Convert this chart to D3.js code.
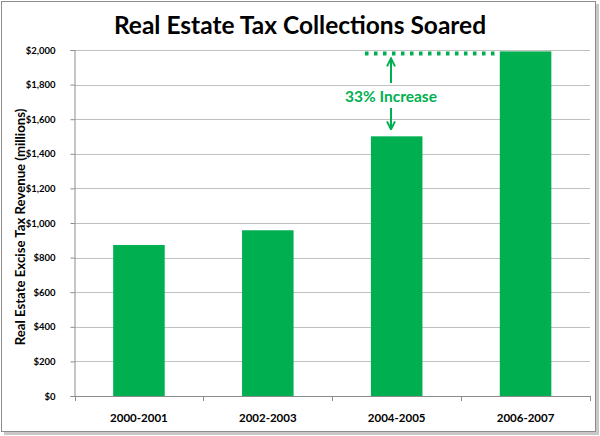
<!DOCTYPE html>
<html><head><meta charset="utf-8">
<script src="https://cdn.jsdelivr.net/npm/d3@7"></script>
<style>body{margin:0;background:#fff}svg{display:block}</style>
</head><body>
<script>
const categories = ["2000-2001", "2002-2003", "2004-2005", "2006-2007"];
const revenue = [873, 958, 1501, 1992];
const yTicks = [0, 200, 400, 600, 800, 1000, 1200, 1400, 1600, 1800, 2000];
const title = "Real Estate Tax Collections Soared";
const yTitle = "Real Estate Excise Tax Revenue (millions)";
const annotation = "33% Increase";

(function () {
const W = 600, H = 436;
const green = "#00B050";
const font = "Lato, 'Open Sans', sans-serif";
const svg = d3.select("body").append("svg").attr("width", W).attr("height", H);

// frame with shadow
svg.append("rect").attr("x", 4).attr("y", 4).attr("width", W - 5).attr("height", H - 5).attr("fill", "#c8c8c8");
svg.append("rect").attr("x", 1.5).attr("y", 1.5).attr("width", W - 6).attr("height", H - 6)
  .attr("fill", "#fff").attr("stroke", "#8c8c8c").attr("stroke-width", 1);

const pLeft = 74.5, pRight = 590, pTop = 50, pBottom = 396;
const x = d3.scaleBand().domain(categories).range([pLeft, pRight]).paddingInner(0.6).paddingOuter(0.3);
const y = d3.scaleLinear().domain([0, 2000]).range([pBottom, pTop]);

// gridlines
svg.append("g").selectAll("line").data(yTicks.filter(d => d > 0)).join("line")
  .attr("x1", pLeft).attr("x2", pRight)
  .attr("y1", d => Math.round(y(d)) + 0.5).attr("y2", d => Math.round(y(d)) + 0.5)
  .attr("stroke", "#c0c0c0").attr("stroke-width", 1);

// bars
svg.append("g").selectAll("rect").data(categories).join("rect")
  .attr("x", d => x(d)).attr("width", x.bandwidth())
  .attr("y", (d, i) => y(revenue[i])).attr("height", (d, i) => pBottom - y(revenue[i]))
  .attr("fill", green);

// y axis
const yAxis = d3.axisLeft(y).tickValues(yTicks).tickSize(4).tickPadding(15)
  .tickFormat(d => "$" + d3.format(",")(d));
const gy = svg.append("g").attr("transform", `translate(${pLeft},0)`).call(yAxis);
gy.select(".domain").attr("stroke", "#8c8c8c");
gy.selectAll(".tick line").attr("stroke", "#8c8c8c");
gy.selectAll(".tick text").attr("font-family", font).attr("font-weight", "bold")
  .attr("font-size", 9.5).attr("fill", "#000");

// x axis
const bandEdges = categories.map(c => x(c) - x.step() * x.paddingInner() / 2).concat([pRight]);
const gx = svg.append("g");
gx.append("line").attr("x1", pLeft).attr("x2", pRight).attr("y1", pBottom + 0.5).attr("y2", pBottom + 0.5).attr("stroke", "#8c8c8c");
gx.selectAll("line.t").data(bandEdges).join("line").attr("class", "t")
  .attr("x1", d => Math.round(d) + 0.5).attr("x2", d => Math.round(d) + 0.5)
  .attr("y1", pBottom).attr("y2", pBottom + 5).attr("stroke", "#8c8c8c");
gx.selectAll("text").data(categories).join("text")
  .attr("x", d => x(d) + x.bandwidth() / 2).attr("y", 422)
  .attr("text-anchor", "middle").attr("font-family", font).attr("font-weight", "bold")
  .attr("font-size", 11.5).text(d => d);

// title
svg.append("text").attr("x", 300).attr("y", 34).attr("text-anchor", "middle")
  .attr("font-family", font).attr("font-weight", "bold").attr("font-size", 24.5).text(title);

// y title
svg.append("text").attr("transform", `translate(25,${(pTop + pBottom) / 2 + 4}) rotate(-90)`)
  .attr("text-anchor", "middle").attr("font-family", font).attr("font-weight", "bold")
  .attr("font-size", 13.2).text(yTitle);

// annotation
const topVal = revenue[3], baseVal = revenue[2];
const ax = 391;
svg.append("line").attr("x1", 365).attr("x2", x(categories[3]) - 3)
  .attr("y1", y(topVal) + 2).attr("y2", y(topVal) + 2)
  .attr("stroke", green).attr("stroke-width", 4).attr("stroke-dasharray", "3.5,5.5");
const defs = svg.append("defs");
defs.append("marker").attr("id", "ah").attr("viewBox", "0 0 10 10").attr("refX", 9).attr("refY", 5)
  .attr("markerWidth", 10).attr("markerHeight", 10).attr("markerUnits", "userSpaceOnUse").attr("orient", "auto")
  .append("path").attr("d", "M1,1 L9,5 L1,9").attr("fill", "none").attr("stroke", green).attr("stroke-width", 2);
svg.append("line").attr("x1", ax).attr("x2", ax).attr("y1", 83).attr("y2", y(topVal) + 7)
  .attr("stroke", green).attr("stroke-width", 2).attr("marker-end", "url(#ah)");
svg.append("line").attr("x1", ax).attr("x2", ax).attr("y1", 108).attr("y2", y(baseVal) - 7)
  .attr("stroke", green).attr("stroke-width", 2).attr("marker-end", "url(#ah)");
svg.append("text").attr("x", ax).attr("y", 102).attr("text-anchor", "middle")
  .attr("font-family", font).attr("font-weight", "bold").attr("font-size", 15.5)
  .attr("fill", green).text(annotation);
})();
</script>
</body></html>
